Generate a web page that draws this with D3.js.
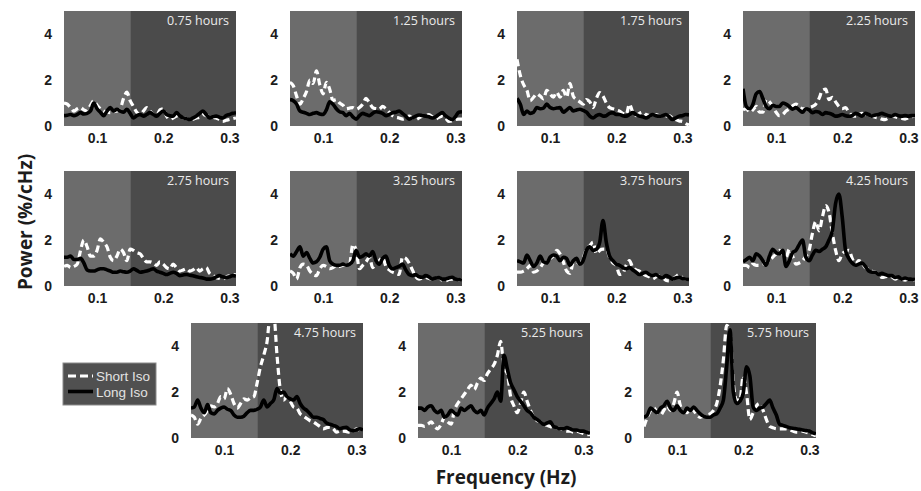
<!DOCTYPE html>
<html>
<head>
<meta charset="utf-8">
<script src="https://cdn.jsdelivr.net/npm/d3@7.9.0/dist/d3.min.js"></script>
<style>
  body { margin: 0; background: #fff; }
  svg { display: block; }
  .tick text { font-family: "Liberation Sans", Arial, sans-serif; font-weight: bold; font-size: 14px; fill: #1c1c1c; }
</style>
</head>
<body>
<svg id="chart" width="921" height="491"></svg>
<script>
// frequency grid (Hz)
const freqs = [0.05, 0.055, 0.06, 0.065, 0.07, 0.075, 0.08, 0.085, 0.09, 0.095,
  0.1, 0.105, 0.11, 0.115, 0.12, 0.125, 0.13, 0.135, 0.14, 0.145,
  0.15, 0.155, 0.16, 0.165, 0.17, 0.175, 0.18, 0.185, 0.19, 0.195,
  0.2, 0.205, 0.21, 0.215, 0.22, 0.225, 0.23, 0.235, 0.24, 0.245,
  0.25, 0.255, 0.26, 0.265, 0.27, 0.275, 0.28, 0.285, 0.29, 0.295,
  0.3, 0.305, 0.31];

const hours = ['0.75 hours', '1.25 hours', '1.75 hours', '2.25 hours',
  '2.75 hours', '3.25 hours', '3.75 hours', '4.25 hours',
  '4.75 hours', '5.25 hours', '5.75 hours'];

const xTicks = [0.1, 0.2, 0.3];
const yTicks = [0, 2, 4];

// power (%/cHz), short isoflurane (dashed) and long isoflurane (solid)
const short075 = [1.0, 0.95, 0.8, 0.65, 0.75, 0.8, 0.7, 0.65, 0.9, 1.1, 0.9, 0.75, 0.65, 0.6, 0.58, 0.62, 0.65, 0.75, 1.2, 1.47, 1.1, 0.85, 0.6, 0.5, 0.65, 0.8, 0.65, 0.5, 0.45, 0.7, 0.75, 0.43, 0.3, 0.35, 0.43, 0.4, 0.35, 0.32, 0.28, 0.3, 0.35, 0.38, 0.5, 0.45, 0.43, 0.38, 0.35, 0.28, 0.2, 0.25, 0.28, 0.32, 0.35];
const long075 = [0.45, 0.47, 0.5, 0.45, 0.5, 0.58, 0.52, 0.55, 0.65, 1.0, 0.75, 0.6, 0.45, 0.65, 0.8, 0.65, 0.73, 0.65, 0.6, 0.73, 0.55, 0.35, 0.45, 0.5, 0.43, 0.5, 0.58, 0.5, 0.43, 0.55, 0.65, 0.5, 0.45, 0.43, 0.58, 0.45, 0.35, 0.32, 0.28, 0.35, 0.43, 0.55, 0.65, 0.5, 0.35, 0.4, 0.43, 0.38, 0.35, 0.45, 0.5, 0.55, 0.58];

const short125 = [1.9, 1.75, 1.3, 0.95, 1.2, 1.5, 2.0, 1.85, 2.4, 1.8, 1.4, 1.9, 1.6, 1.1, 1.15, 1.0, 0.9, 0.75, 0.78, 0.8, 0.73, 0.8, 0.95, 1.2, 1.0, 0.8, 0.75, 0.73, 0.85, 0.75, 0.6, 0.45, 0.38, 0.35, 0.3, 0.35, 0.43, 0.35, 0.28, 0.35, 0.43, 0.45, 0.5, 0.4, 0.3, 0.38, 0.43, 0.35, 0.2, 0.22, 0.28, 0.3, 0.3];
const long125 = [1.15, 1.1, 0.95, 0.65, 0.6, 0.55, 0.5, 0.55, 0.58, 0.52, 0.5, 0.7, 1.05, 0.95, 0.75, 0.62, 0.58, 0.45, 0.55, 0.4, 0.3, 0.45, 0.55, 0.5, 0.45, 0.55, 0.62, 0.6, 0.55, 0.45, 0.5, 0.58, 0.6, 0.65, 0.55, 0.43, 0.3, 0.35, 0.43, 0.48, 0.45, 0.43, 0.4, 0.35, 0.4, 0.5, 0.58, 0.45, 0.35, 0.28, 0.4, 0.6, 0.62];

const short175 = [2.9, 2.2, 1.8, 1.55, 1.1, 1.25, 1.4, 1.3, 1.18, 1.55, 1.4, 1.25, 1.47, 1.25, 1.55, 1.25, 1.85, 1.3, 1.15, 1.05, 0.95, 1.15, 1.05, 0.8, 1.2, 1.45, 1.3, 1.0, 0.8, 0.75, 0.7, 0.65, 0.55, 0.5, 0.95, 0.6, 0.45, 0.55, 0.6, 0.5, 0.45, 0.43, 0.5, 0.45, 0.43, 0.43, 0.45, 0.35, 0.28, 0.22, 0.2, 0.1, 0.05];
const long175 = [1.2, 0.95, 0.5, 0.65, 0.55, 0.6, 0.8, 0.75, 0.78, 0.95, 0.8, 0.75, 0.78, 0.8, 0.6, 0.7, 0.8, 0.65, 0.7, 0.73, 0.68, 0.6, 0.43, 0.35, 0.45, 0.5, 0.43, 0.45, 0.55, 0.58, 0.5, 0.5, 0.45, 0.43, 0.5, 0.58, 0.5, 0.43, 0.4, 0.35, 0.42, 0.5, 0.45, 0.43, 0.45, 0.5, 0.4, 0.28, 0.35, 0.43, 0.45, 0.5, 0.48];

const short225 = [0.7, 0.75, 0.6, 0.7, 0.85, 0.6, 0.6, 1.15, 1.05, 0.85, 0.6, 0.45, 0.5, 0.65, 0.75, 0.88, 0.95, 0.85, 0.75, 0.75, 0.8, 0.85, 0.95, 1.2, 1.55, 1.6, 1.15, 1.25, 1.05, 0.85, 0.75, 0.8, 0.6, 0.45, 0.43, 0.5, 0.55, 0.5, 0.45, 0.43, 0.38, 0.35, 0.3, 0.28, 0.35, 0.43, 0.4, 0.35, 0.33, 0.3, 0.35, 0.4, 0.43];
const long225 = [1.62, 0.85, 0.75, 0.95, 1.4, 1.5, 1.2, 0.85, 0.75, 0.9, 0.85, 0.85, 1.0, 0.95, 0.85, 0.73, 0.8, 0.7, 0.6, 0.75, 0.7, 0.58, 0.63, 0.6, 0.5, 0.58, 0.55, 0.5, 0.43, 0.45, 0.5, 0.45, 0.43, 0.45, 0.55, 0.5, 0.43, 0.55, 0.5, 0.43, 0.48, 0.5, 0.55, 0.5, 0.45, 0.43, 0.5, 0.45, 0.43, 0.45, 0.43, 0.45, 0.45];

const short275 = [0.85, 0.9, 0.8, 0.85, 0.95, 1.55, 2.0, 1.7, 1.3, 1.3, 1.55, 2.05, 1.9, 1.7, 1.25, 1.1, 1.3, 1.6, 1.45, 1.1, 1.6, 1.55, 1.45, 1.4, 1.2, 1.05, 1.05, 1.0, 0.9, 1.05, 0.95, 0.8, 0.75, 0.95, 0.8, 0.65, 0.7, 0.75, 0.65, 0.7, 0.8, 0.65, 0.75, 0.8, 0.55, 0.45, 0.37, 0.33, 0.3, 0.4, 0.45, 0.5, 0.48];
const long275 = [1.25, 1.25, 1.3, 1.15, 1.15, 1.2, 1.0, 0.7, 0.65, 0.65, 0.7, 0.75, 0.75, 0.7, 0.65, 0.6, 0.6, 0.65, 0.62, 0.6, 0.65, 0.75, 0.68, 0.6, 0.62, 0.65, 0.7, 0.75, 0.65, 0.6, 0.55, 0.5, 0.55, 0.6, 0.55, 0.45, 0.48, 0.5, 0.47, 0.45, 0.4, 0.37, 0.35, 0.3, 0.3, 0.32, 0.4, 0.45, 0.4, 0.37, 0.4, 0.45, 0.43];

const short325 = [0.65, 0.55, 0.3, 0.8, 0.95, 0.9, 0.65, 0.5, 0.45, 0.75, 0.9, 0.85, 0.75, 0.8, 0.9, 0.85, 0.9, 0.9, 0.95, 1.8, 1.55, 0.75, 0.9, 1.05, 1.25, 0.8, 1.0, 1.1, 1.25, 0.85, 0.7, 0.6, 0.55, 0.5, 1.25, 1.2, 1.0, 0.7, 0.4, 0.3, 0.35, 0.37, 0.33, 0.3, 0.35, 0.37, 0.25, 0.22, 0.28, 0.3, 0.3, 0.28, 0.25];
const long325 = [1.4, 1.3, 1.5, 1.7, 1.3, 1.45, 1.2, 1.0, 1.05, 1.25, 1.6, 1.7, 1.1, 0.95, 0.9, 0.9, 0.95, 0.9, 0.95, 1.1, 1.55, 1.25, 1.3, 1.4, 1.3, 1.5, 1.1, 0.95, 1.2, 1.3, 0.9, 0.75, 0.8, 0.85, 0.95, 0.7, 0.5, 0.45, 0.5, 0.4, 0.38, 0.45, 0.4, 0.3, 0.35, 0.37, 0.3, 0.3, 0.35, 0.38, 0.3, 0.28, 0.25];

const short375 = [0.6, 0.6, 0.65, 0.75, 0.9, 0.6, 0.65, 0.8, 1.0, 1.1, 1.2, 1.3, 1.55, 1.4, 1.05, 0.65, 0.55, 1.0, 1.05, 0.95, 1.2, 1.6, 1.75, 1.9, 1.4, 1.55, 1.6, 1.6, 1.25, 1.0, 0.9, 0.5, 0.55, 0.9, 1.1, 0.8, 0.7, 0.65, 0.55, 0.45, 0.4, 0.3, 0.4, 0.45, 0.37, 0.25, 0.22, 0.3, 0.4, 0.5, 0.35, 0.3, 0.28];
const long375 = [1.1, 1.05, 1.0, 1.35, 1.1, 0.85, 1.0, 1.3, 1.05, 1.0, 1.25, 1.35, 1.3, 1.1, 1.25, 1.2, 0.9, 1.1, 1.2, 0.95, 1.1, 1.55, 1.7, 1.55, 1.6, 1.9, 2.85, 1.9, 1.3, 1.1, 0.95, 0.9, 0.8, 0.75, 0.8, 0.7, 0.6, 0.5, 0.55, 0.6, 0.5, 0.45, 0.5, 0.4, 0.35, 0.45, 0.4, 0.3, 0.35, 0.38, 0.33, 0.3, 0.28];

const short425 = [0.9, 0.9, 0.8, 0.95, 0.9, 0.9, 0.95, 1.0, 1.1, 1.25, 1.4, 1.55, 1.4, 1.25, 1.6, 1.3, 0.95, 1.0, 1.1, 1.3, 1.55, 2.3, 2.8, 2.4, 3.0, 3.5, 3.2, 2.3, 1.55, 1.1, 1.4, 1.5, 1.55, 1.2, 0.95, 1.1, 1.0, 0.8, 0.75, 0.65, 0.6, 0.5, 0.37, 0.4, 0.45, 0.4, 0.3, 0.35, 0.3, 0.25, 0.3, 0.3, 0.25];
const long425 = [1.05, 1.15, 1.25, 1.1, 1.4, 1.3, 1.1, 0.9, 1.3, 1.6, 1.45, 1.4, 1.55, 0.85, 1.1, 1.45, 1.55, 1.8, 2.0, 1.25, 1.1, 1.35, 1.55, 1.5, 1.6, 1.7, 2.0, 2.4, 3.6, 4.0, 3.0, 1.55, 1.2, 1.0, 0.9, 0.95, 1.0, 0.85, 0.65, 0.6, 0.6, 0.5, 0.55, 0.5, 0.45, 0.45, 0.37, 0.4, 0.3, 0.35, 0.3, 0.3, 0.28];

const short475 = [1.0, 0.9, 0.6, 0.85, 1.0, 1.2, 1.4, 1.35, 1.5, 1.8, 1.7, 2.15, 1.9, 1.5, 1.3, 1.5, 1.7, 1.65, 1.75, 1.8, 2.4, 3.1, 3.6, 4.2, 5.4, 5.4, 3.6, 2.1, 1.65, 1.8, 1.6, 1.35, 1.3, 1.05, 0.95, 0.85, 0.75, 0.7, 0.6, 0.5, 0.4, 0.45, 0.47, 0.4, 0.25, 0.3, 0.3, 0.28, 0.25, 0.3, 0.4, 0.35, 0.3];
const long475 = [1.3, 1.35, 1.65, 1.3, 1.1, 1.45, 1.1, 1.05, 1.2, 1.3, 1.35, 1.25, 1.2, 1.0, 0.9, 0.9, 0.95, 1.1, 1.2, 1.2, 1.25, 1.35, 1.65, 1.35, 1.5, 1.65, 2.15, 1.95, 2.0, 1.8, 1.7, 1.65, 1.8, 1.5, 1.3, 1.2, 1.05, 0.9, 0.9, 0.85, 0.8, 0.65, 0.6, 0.55, 0.5, 0.4, 0.45, 0.47, 0.35, 0.32, 0.35, 0.4, 0.35];

const short525 = [0.55, 0.55, 0.5, 0.6, 0.7, 0.5, 0.4, 0.6, 0.9, 0.7, 0.6, 1.2, 1.5, 1.7, 1.9, 2.1, 2.3, 2.1, 2.4, 2.6, 2.5, 2.8, 3.0, 3.2, 3.6, 4.2, 3.0, 2.8, 1.8, 1.4, 1.1, 1.5, 2.0, 1.6, 1.2, 0.9, 0.75, 0.7, 0.6, 0.55, 0.5, 0.45, 0.45, 0.4, 0.35, 0.3, 0.3, 0.25, 0.3, 0.25, 0.2, 0.15, 0.15];
const long525 = [1.3, 1.3, 1.2, 1.35, 1.4, 1.2, 1.1, 1.2, 0.9, 1.0, 1.2, 1.1, 1.0, 1.3, 1.2, 1.3, 1.4, 1.2, 1.1, 1.2, 1.0, 1.3, 1.5, 1.7, 2.0, 1.6, 3.6, 3.0, 2.4, 2.1, 1.8, 1.6, 1.4, 1.2, 1.1, 0.9, 0.8, 0.7, 0.6, 0.65, 0.7, 0.5, 0.45, 0.4, 0.4, 0.45, 0.4, 0.35, 0.35, 0.3, 0.3, 0.25, 0.2];

const short575 = [0.5, 0.9, 1.2, 1.3, 1.1, 1.0, 1.2, 1.4, 1.2, 1.5, 2.0, 1.4, 1.2, 1.1, 1.3, 1.2, 1.0, 0.9, 0.95, 1.0, 1.05, 1.2, 1.5, 2.25, 3.4, 4.9, 4.6, 2.4, 1.65, 1.65, 2.7, 1.95, 0.8, 1.1, 1.4, 1.5, 1.2, 0.8, 0.5, 0.45, 0.4, 0.4, 0.4, 0.4, 0.35, 0.3, 0.25, 0.25, 0.3, 0.25, 0.2, 0.15, 0.1];
const long575 = [0.9, 1.0, 1.3, 1.2, 1.1, 1.3, 1.4, 1.6, 1.3, 1.2, 1.4, 1.2, 1.1, 1.3, 1.2, 1.35, 1.2, 1.05, 0.95, 0.9, 0.9, 1.0, 1.05, 1.3, 1.65, 3.1, 4.7, 2.0, 1.5, 1.6, 1.95, 3.1, 2.7, 1.35, 1.2, 1.3, 1.35, 1.5, 1.65, 1.3, 1.0, 0.6, 0.55, 0.5, 0.45, 0.42, 0.4, 0.38, 0.35, 0.32, 0.3, 0.22, 0.18];

const shortIso = [short075, short125, short175, short225, short275, short325, short375, short425, short475, short525, short575];
const longIso = [long075, long125, long175, long225, long275, long325, long375, long425, long475, long525, long575];

// layout
const panelW = 172, panelH = 115;
const rowTop = [11, 171, 323];
const rowLefts = [[64, 290, 517, 743], [64, 290, 517, 743], [191, 418, 644]];

const svg = d3.select('#chart');

const x = d3.scaleLinear().domain([0.05, 0.31]).range([0, panelW]);
const y = d3.scaleLinear().domain([0, 5]).range([panelH, 0]);

const line = d3.line()
  .x(d => x(d.f))
  .y(d => y(d.v))
  .curve(d3.curveMonotoneX);

let panels = [];
let k = 0;
rowLefts.forEach((lefts, r) => {
  lefts.forEach(left => {
    panels.push({ idx: k, left: left, top: rowTop[r] });
    k++;
  });
});

const toPoints = arr => arr.map((v, i) => ({ f: freqs[i], v: v })).filter(d => d.f !== undefined);

panels.forEach(p => {
  const g = svg.append('g').attr('transform', `translate(${p.left},${p.top})`);

  g.append('clipPath').attr('id', 'clip' + p.idx)
    .append('rect').attr('width', panelW).attr('height', panelH);

  // shaded bands
  g.append('rect')
    .attr('x', x(0.05)).attr('y', 0)
    .attr('width', x(0.15) - x(0.05)).attr('height', panelH)
    .attr('fill', '#6c6c6c');
  g.append('rect')
    .attr('x', x(0.15)).attr('y', 0)
    .attr('width', x(0.31) - x(0.15)).attr('height', panelH)
    .attr('fill', '#4b4b4b');

  const lines = g.append('g').attr('clip-path', `url(#clip${p.idx})`);
  lines.append('path')
    .attr('d', line(toPoints(shortIso[p.idx])))
    .attr('fill', 'none')
    .attr('stroke', '#fff')
    .attr('stroke-width', 3.2)
    .attr('stroke-dasharray', '7,4');
  lines.append('path')
    .attr('d', line(toPoints(longIso[p.idx])))
    .attr('fill', 'none')
    .attr('stroke', '#000')
    .attr('stroke-width', 3.6)
    .attr('stroke-linejoin', 'round');

  g.append('text')
    .attr('x', panelW - 7).attr('y', 14)
    .attr('text-anchor', 'end')
    .style('font-family', '"Open Sans", sans-serif')
    .style('font-size', '12.5px')
    .style('fill', '#ececec')
    .text(hours[p.idx]);

  g.append('g')
    .attr('transform', `translate(0,${panelH})`)
    .call(d3.axisBottom(x).tickValues(xTicks).tickSize(0).tickPadding(7).tickFormat(d3.format('.1f')))
    .call(a => a.select('.domain').remove());

  g.append('g')
    .call(d3.axisLeft(y).tickValues(yTicks).tickSize(0).tickPadding(12).tickFormat(d3.format('d')))
    .call(a => a.select('.domain').remove());
});

// axis titles
svg.append('text')
  .attr('transform', 'translate(32,222) rotate(-90)')
  .attr('text-anchor', 'middle')
  .style('font-family', '"Open Sans", sans-serif')
  .style('font-weight', 'bold')
  .style('font-size', '19px')
  .style('fill', '#1c1c1c')
  .text('Power (%/cHz)');

svg.append('text')
  .attr('x', 506).attr('y', 484)
  .attr('text-anchor', 'middle')
  .style('font-family', '"Open Sans", sans-serif')
  .style('font-weight', 'bold')
  .style('font-size', '19px')
  .style('fill', '#1c1c1c')
  .text('Frequency (Hz)');

// legend
const legend = svg.append('g').attr('transform', 'translate(63,363)');
legend.append('rect')
  .attr('width', 93).attr('height', 42)
  .attr('fill', '#505050')
  .attr('stroke', '#8a8a8a').attr('stroke-width', 1);
const legendItems = [
  { label: 'Short Iso', color: '#fff', dash: '8,4', width: 3 },
  { label: 'Long Iso', color: '#000', dash: null, width: 3.6 }
];
legendItems.forEach((d, i) => {
  const yy = 13 + i * 15.5;
  legend.append('line')
    .attr('x1', 5).attr('x2', 30).attr('y1', yy).attr('y2', yy)
    .attr('stroke', d.color).attr('stroke-width', d.width)
    .attr('stroke-dasharray', d.dash);
  legend.append('text')
    .attr('x', 33).attr('y', yy + 5)
    .style('font-family', '"Liberation Sans", Arial, sans-serif')
    .style('font-size', '13.5px')
    .style('fill', '#e2e2e2')
    .text(d.label);
});
</script>
</body>
</html>
